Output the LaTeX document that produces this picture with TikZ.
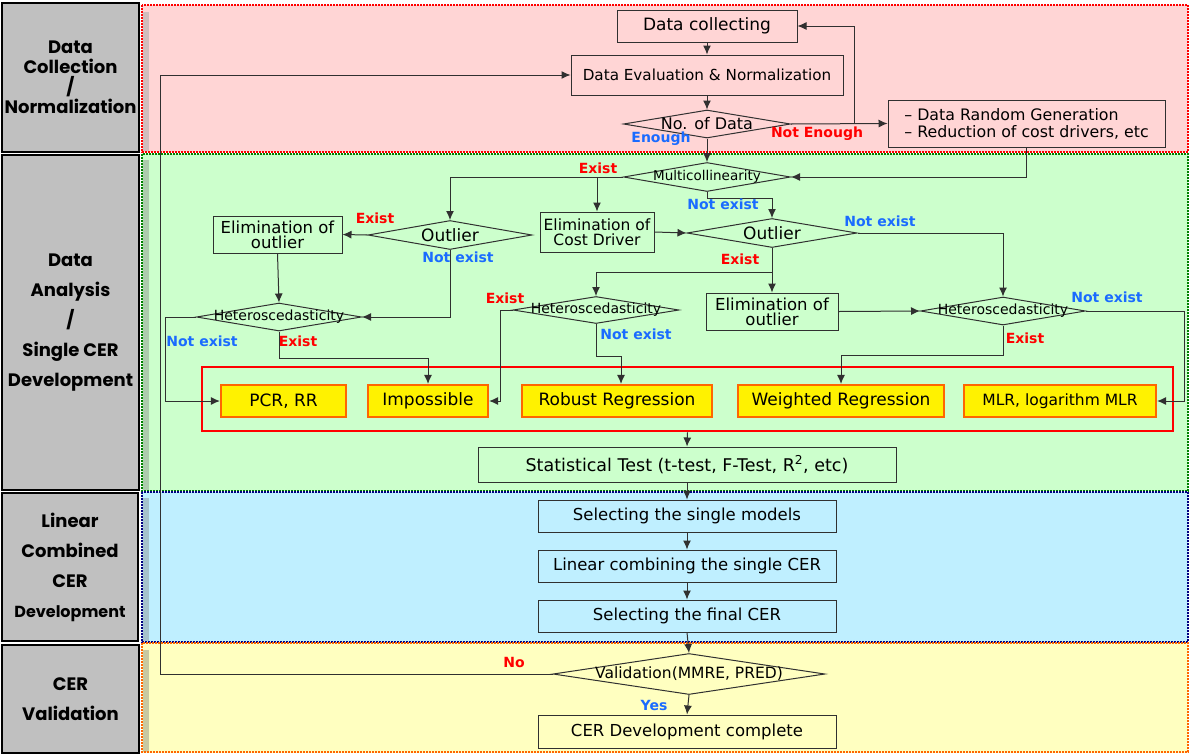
\documentclass[tikz,border=0pt]{standalone}
\usepackage{fontspec}
\setmainfont{DejaVu Sans}
\newfontfamily\popfont{Poppins}
\usetikzlibrary{shapes.geometric,arrows.meta}
\definecolor{bandred}{HTML}{FFD5D5}
\definecolor{bandgreen}{HTML}{CCFFCC}
\definecolor{bandblue}{HTML}{BFEFFF}
\definecolor{bandyellow}{HTML}{FFFFC0}
\definecolor{gbox}{HTML}{C0C0C0}
\definecolor{linegray}{HTML}{303030}
\definecolor{labblue}{HTML}{1A6BFF}
\definecolor{borange}{HTML}{FF6600}
\definecolor{dkgreen}{HTML}{008000}
\definecolor{dkblue}{HTML}{000080}
\begin{document}
\begin{tikzpicture}[x=1pt,y=-1pt,
  band/.style={line width=1.6pt, dash pattern=on 1.6pt off 1.4pt},
  gray label/.style={draw=black, line width=1.3pt, fill=gbox, inner sep=0pt, align=center,
    font=\popfont\bfseries\fontsize{18}{20}\selectfont},
  box/.style={draw=linegray, line width=1pt, inner sep=0pt, align=center,
    font=\fontsize{16.5}{15}\selectfont},
  dia/.style={diamond, draw=linegray, line width=1pt, inner sep=0pt},
  ybox/.style={draw=borange, line width=2.2pt, fill=yellow, inner sep=0pt,
    minimum height=32pt, font=\fontsize{17}{17}\selectfont},
  arr/.style={draw=linegray, line width=1pt, -{Latex[length=9pt,width=8pt]}},
  labr/.style={text=red, font=\bfseries\fontsize{14}{14}\selectfont, inner sep=0pt},
  labb/.style={text=labblue, font=\bfseries\fontsize{14}{14}\selectfont, inner sep=0pt}
]
\useasboundingbox (0,0) rectangle (1190,753);
% bands
\fill[bandred] (142,5) rectangle (1188,152);
\fill[bandgreen] (142,154) rectangle (1188,491);
\fill[bandblue] (142,492) rectangle (1188,642);
\fill[bandyellow] (142,643) rectangle (1188,753);
\fill[bandred!75!black!70] (143,12) rectangle (149,151);
\fill[bandgreen!75!black!80] (143,160) rectangle (149,490);
\fill[bandblue!75!black!80] (143,498) rectangle (149,641);
\fill[bandyellow!75!black!85] (143,650) rectangle (149,752);
\draw[band, red] (142,5) rectangle (1188,152);
\draw[band, dkgreen] (142,154) rectangle (1188,491);
\draw[band, dkblue] (142,492) rectangle (1188,642);
\draw[band, borange] (142,643) rectangle (1188,752);
% left labels
\node[gray label, minimum width=137pt, minimum height=149pt] (l1) at (70.5,77.5)
  {Data\\Collection\\/\\Normalization};
\node[gray label, minimum width=137pt, minimum height=335pt,
  font=\popfont\bfseries\fontsize{18}{30}\selectfont] (l2) at (70.5,322.5)
  {Data\\Analysis\\/\\Single CER\\Development};
\node[gray label, minimum width=136pt, minimum height=148pt,
  font=\popfont\bfseries\fontsize{18}{30}\selectfont] (l3) at (70,567)
  {Linear\\Combined\\CER\\{\fontsize{16}{30}\selectfont Development}};
\node[gray label, minimum width=137pt, minimum height=108pt,
  font=\popfont\bfseries\fontsize{18}{30}\selectfont] (l4) at (70.5,699)
  {CER\\Validation};
% data collection
\node[box, minimum width=180pt, minimum height=32pt, font=\fontsize{17}{16}\selectfont] (dc) at (707,26) {Data collecting};
\node[box, minimum width=272pt, minimum height=40pt, font=\fontsize{15.2}{15}\selectfont] (den) at (707,75) {Data Evaluation \& Normalization};
\node[dia, minimum width=167pt, minimum height=28pt,
  label={[font=\fontsize{16}{16}\selectfont]center:No. of Data}] (nod) at (707,124) {};
\node[box, minimum width=277pt, minimum height=47pt, align=left, font=\fontsize{15.8}{17}\selectfont] (rg) at (1026.5,123.5)
  {– Data Random Generation\\– Reduction of cost drivers, etc};
% analysis
\node[dia, minimum width=167pt, minimum height=29pt,
  label={[font=\fontsize{13.5}{13}\selectfont]center:Multicollinearity}] (mc) at (707,177) {};
\node[box, minimum width=114pt, minimum height=40pt, font=\fontsize{15.5}{15}\selectfont] (ecd) at (597,232) {Elimination of\\Cost Driver};
\node[dia, minimum width=164pt, minimum height=29pt,
  label={[font=\fontsize{17}{17}\selectfont]center:Outlier}] (o1) at (450,235) {};
\node[box, minimum width=129pt, minimum height=37pt] (eo1) at (277.5,234.5) {Elimination of\\outlier};
\node[dia, minimum width=165pt, minimum height=28pt,
  label={[font=\fontsize{14}{14}\selectfont]center:Heteroscedasticity}] (h1) at (279,317) {};
\node[dia, minimum width=170pt, minimum height=29pt,
  label={[font=\fontsize{17}{17}\selectfont]center:Outlier}] (o2) at (772,233) {};
\node[dia, minimum width=166pt, minimum height=27pt,
  label={[font=\fontsize{14}{14}\selectfont]center:Heteroscedasticity}] (h2) at (596,310) {};
\node[box, minimum width=132pt, minimum height=37pt] (eo2) at (772,311.5) {Elimination of\\outlier};
\node[dia, minimum width=165pt, minimum height=28pt,
  label={[font=\fontsize{14}{14}\selectfont]center:Heteroscedasticity}] (h3) at (1003,311) {};
% group of methods
\node[draw=red, line width=2.5pt, minimum width=971pt, minimum height=64pt, inner sep=0pt] (grp) at (687.5,399) {};
\node[ybox, minimum width=125pt] (y1) at (283.5,401) {PCR, RR};
\node[ybox, minimum width=120pt] (y2) at (428,401) {Impossible};
\node[ybox, minimum width=190pt] (y3) at (617,401) {Robust Regression};
\node[ybox, minimum width=206pt] (y4) at (841,401) {Weighted Regression};
\node[ybox, minimum width=192pt, font=\fontsize{15.5}{15}\selectfont] (y5) at (1060,401) {MLR, logarithm MLR};
\node[box, minimum width=418pt, minimum height=35pt, font=\fontsize{17.5}{17}\selectfont] (st) at (687,464.5) {Statistical Test (t-test, F-Test, R\textsuperscript{2}, etc)};
% combined
\node[box, minimum width=298pt, minimum height=32pt] (s1) at (687,516) {Selecting the single models};
\node[box, minimum width=298pt, minimum height=32pt] (s2) at (687,566) {Linear combining the single CER};
\node[box, minimum width=298pt, minimum height=32pt] (s3) at (687,616) {Selecting the final CER};
% validation
\node[dia, minimum width=272pt, minimum height=41pt,
  label={[font=\fontsize{15.5}{15}\selectfont]center:Validation(MMRE, PRED)}] (val) at (689,674) {};
\node[box, minimum width=298pt, minimum height=33pt] (cdc) at (687,731.5) {CER Development complete};
% coordinates
\coordinate (ne) at (854,124);
\coordinate (c1) at (165,317);
\coordinate (c2) at (500,310);
\coordinate (c3) at (1184,311);
\coordinate (c4) at (160,674);
% connectors
\draw[arr] (dc.south) -- (den.north);
\draw[arr] (den.south) -- (nod.north);
\draw[arr] (nod.south) -- (mc.north);
\draw[arr] (nod.east) -- (rg.west);
\draw[arr] (ne) |- (dc.east);
\draw[arr] (rg.south) |- (mc.east);
\draw[arr] (mc.west) -| (o1.north);
\draw[arr] (ecd.north |- mc.west) -- (ecd.north);
\draw[arr] (mc.south) -- ++(0,6) -| (o2.north);
\draw[arr] (ecd.east) -- (o2.west);
\draw[arr] (o1.west) -- (eo1.east);
\draw[arr] (o1.south) |- (h1.east);
\draw[arr] (eo1.south) -- (h1.north);
\draw[arr] (h1.west) -- (c1) |- (y1.west);
\draw[arr] (h1.south) -- ++(0,27) -| (y2.north);
\draw[arr] (o2.east) -| (h3.north);
\draw[arr] (o2.south) -- (eo2.north);
\draw[arr] (o2.south |- 0,272) -| (h2.north);
\draw[arr] (h2.west) -- (c2) |- (y2.east);
\draw[arr] (h2.south) -- ++(0,32) -| ([xshift=4pt]y3.north);
\draw[arr] (eo2.east) -- (h3.west);
\draw[arr] (h3.east) -- (c3) |- (y5.east);
\draw[arr] (h3.south) -- ++(0,30) -| (y4.north);
\draw[arr] (grp.south) -- (st.north);
\draw[arr] (st.south) -- (s1.north);
\draw[arr] (s1.south) -- (s2.north);
\draw[arr] (s2.south) -- (s3.north);
\draw[arr] (s3.south) -- (val.north);
\draw[arr] (val.west) -- (c4) |- (den.west);
\draw[arr] (val.south) -- (cdc.north);
% branch labels
\node[labb] (t1) at (661,139) {Enough};
\node[labr] (t2) at (817,134) {Not Enough};
\node[labr] (t3) at (598,168) {Exist};
\node[labb] (t4) at (723,204) {Not exist};
\node[labr] (t5) at (375,218) {Exist};
\node[labb] (t6) at (458,257) {Not exist};
\node[labb] (t7) at (202,341) {Not exist};
\node[labr] (t8) at (298,341) {Exist};
\node[labb] (t9) at (880,221) {Not exist};
\node[labr] (t10) at (740,259) {Exist};
\node[labr] (t11) at (505,298) {Exist};
\node[labb] (t12) at (636,334) {Not exist};
\node[labb] (t13) at (1107,297) {Not exist};
\node[labr] (t14) at (1025,338) {Exist};
\node[labr] (t15) at (514,662) {No};
\node[labb] (t16) at (654,705) {Yes};
\end{tikzpicture}
\end{document}
